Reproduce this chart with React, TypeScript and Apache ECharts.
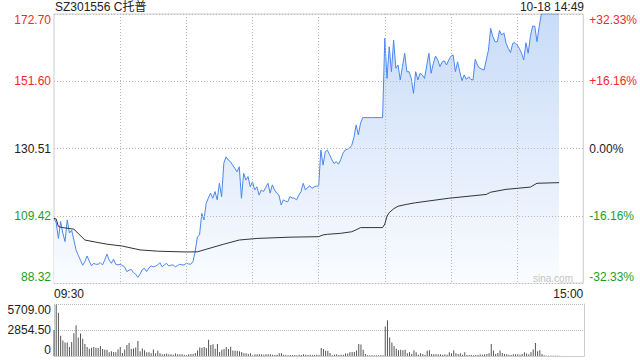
import React, { useEffect, useRef } from 'react';
import * as echarts from 'echarts';

const TITLE = 'SZ301556 C托普';
const TIME_STAMP = '10-18 14:49';
const WATERMARK = 'sina.com';
const PREV_CLOSE = 130.51;
const PRICE_TICKS = [88.32, 109.42, 130.51, 151.6, 172.7];
const PCT_LABELS = ['-32.33%', '-16.16%', '0.00%', '+16.16%', '+32.33%'];
const VOL_MAX = 5709;
const VOL_INTERVAL = 2854.5;

// minute prices, 09:30 .. 14:49 (index 0..229)
const prices = [
  108.6, 107.2, 102.3, 107.6, 104.0, 101.3, 108.1, 104.0, 104.9, 101.8,
  98.7, 97.0, 95.5, 93.9, 95.0, 96.8, 95.2, 93.7, 94.5, 94.2,
  94.2, 94.7, 94.0, 95.5, 97.4, 95.5, 94.5, 95.8, 94.2, 94.0,
  94.2, 93.8, 93.4, 91.9, 92.3, 92.6, 91.6, 91.1, 90.1, 91.1,
  92.5, 92.9, 91.9, 93.0, 93.7, 93.4, 93.6, 94.0, 94.7, 93.4,
  94.0, 94.5, 93.7, 93.9, 94.0, 93.4, 93.8, 94.2, 94.0, 94.0,
  94.5, 94.3, 94.2, 95.0, 98.1, 102.8, 103.4, 110.2, 108.1, 113.3,
  115.0, 116.5, 114.9, 117.0, 114.4, 119.6, 115.4, 125.9, 127.9, 126.9,
  126.4, 125.3, 124.3, 123.2, 124.8, 114.9, 122.7, 120.6, 121.7, 118.5,
  120.1, 117.5, 118.5, 115.9, 117.5, 117.0, 118.3, 119.6, 116.5, 119.1,
  117.5, 116.5, 115.9, 112.8, 114.4, 114.0, 113.8, 115.4, 115.0, 114.9,
  114.4, 115.9, 117.0, 119.6, 117.5, 118.3, 118.8, 118.0, 118.5, 118.7,
  118.7, 130.0, 125.3, 129.5, 130.0, 128.5, 127.0, 125.8, 126.4, 125.6,
  127.0, 129.0, 130.0, 130.3, 130.6, 131.5, 134.0, 137.9, 134.8, 138.5,
  140.2, 140.2, 140.2, 140.2, 140.2, 140.2, 140.2, 140.2, 140.2, 140.2,
  165.1, 152.5, 162.4, 154.6, 164.5, 155.7, 156.7, 152.0, 156.2, 160.4,
  154.6, 154.6, 152.5, 147.8, 154.6, 152.0, 154.1, 153.6, 152.5, 156.5,
  160.4, 154.1, 157.2, 159.5, 158.3, 156.2, 157.7, 158.0, 156.7, 158.3,
  159.5, 159.8, 154.6, 157.7, 154.6, 151.8, 153.6, 152.2, 153.0, 152.2,
  152.0, 158.5, 156.7, 155.7, 155.4, 155.1, 158.3, 161.4, 168.2, 165.6,
  164.0, 164.0, 167.5, 166.1, 166.8, 163.5, 161.9, 160.6, 163.5, 163.7,
  163.0, 161.9, 160.4, 158.3, 163.7, 160.4, 165.6, 168.9, 168.9, 164.0,
  168.8, 172.7, 172.7, 172.7, 172.7, 172.7, 172.7, 172.7, 172.7, 172.7,
];

// average price line, [minute index, value]
const avgPoints = [
  [0, 108.6], [1, 108.4], [2, 106.0], [4, 105.7], [9, 105.2], [14, 101.8],
  [20, 101.0], [24, 100.5], [31, 99.9], [39, 98.7], [47, 98.3], [60, 98.05],
  [65, 98.1], [69, 98.9], [77, 100.5], [84, 101.8], [92, 102.3], [107, 102.7],
  [120, 102.85], [122, 103.4], [124, 103.6], [130, 103.9], [135, 104.4],
  [137, 105.0], [139, 105.7], [149, 105.7], [150, 106.8], [151, 109.3],
  [152, 110.4], [154, 111.6], [156, 112.4], [160, 113.0], [164, 113.5],
  [179, 114.9], [196, 116.1], [198, 116.8], [205, 117.7], [216, 118.4],
  [219, 119.6], [229, 119.8],
];

// minute volumes (index 0..229)
const volumes = [
  2850, 5650, 4760, 2230, 1700, 1475, 1475, 980, 1550, 2500,
  3365, 2040, 2460, 1890, 1320, 980, 795, 910, 980, 910,
  870, 1100, 760, 680, 680, 415, 530, 450, 415, 720,
  980, 340, 720, 1210, 1435, 760, 830, 945, 1660, 530,
  830, 640, 415, 415, 300, 720, 300, 605, 300, 190,
  225, 265, 190, 190, 150, 265, 190, 190, 190, 150,
  75, 190, 225, 225, 340, 605, 945, 910, 980, 870,
  1780, 1210, 1285, 795, 1320, 450, 680, 760, 980, 760,
  1020, 605, 570, 570, 530, 450, 300, 300, 225, 300,
  75, 190, 190, 190, 190, 150, 190, 190, 190, 150,
  110, 150, 300, 300, 150, 110, 75, 110, 75, 110,
  75, 150, 110, 190, 150, 110, 150, 110, 110, 150,
  110, 870, 760, 570, 570, 340, 75, 150, 190, 110,
  150, 150, 265, 265, 415, 450, 450, 605, 1320, 1250,
  680, 225, 75, 75, 75, 75, 75, 75, 75, 75,
  3250, 3930, 2040, 1475, 1100, 795, 640, 680, 640, 680,
  300, 415, 225, 640, 415, 150, 300, 225, 150, 570,
  640, 225, 190, 190, 190, 190, 150, 190, 150, 415,
  300, 640, 300, 225, 300, 150, 415, 110, 110, 110,
  75, 110, 110, 190, 150, 190, 225, 300, 1320, 605,
  225, 340, 605, 340, 225, 190, 150, 110, 190, 190,
  190, 150, 225, 415, 265, 190, 415, 720, 1435, 530,
  640, 225, 75, 40, 40, 40, 40, 40, 40, 40,
];

function pad(n: number) {
  return n < 10 ? '0' + n : '' + n;
}
function buildTimes() {
  const out: string[] = [];
  for (let m = 0; m <= 120; m++) {
    const t = 9 * 60 + 30 + m;
    out.push(pad(Math.floor(t / 60)) + ':' + pad(t % 60));
  }
  for (let m = 1; m <= 120; m++) {
    const t = 13 * 60 + m;
    out.push(pad(Math.floor(t / 60)) + ':' + pad(t % 60));
  }
  return out;
}
const times = buildTimes();

const FONT = '"Liberation Sans", Arial, "Noto Sans CJK SC", sans-serif';
const RED = '#f02a2a';
const GREEN = '#1c9e1c';
const GRID = '#cccccc';
const DOT = '#b8b8b8';
const LINE = '#4a88ee';

function priceColor(v: number) {
  if (Math.abs(v - PREV_CLOSE) < 0.005) return '#222';
  return v > PREV_CLOSE ? RED : GREEN;
}
function tickIndex(v: number) {
  let best = 0;
  for (let i = 0; i < PRICE_TICKS.length; i++) {
    if (Math.abs(PRICE_TICKS[i] - v) < Math.abs(PRICE_TICKS[best] - v)) best = i;
  }
  return best;
}

export default function App() {
  const ref = useRef<HTMLDivElement>(null);
  useEffect(() => {
    if (!ref.current) return;
    const chart = echarts.init(ref.current, null, { renderer: 'svg' });
    const option: any = {
      animation: false,
      textStyle: { fontFamily: FONT },
      grid: [
        { left: 54, top: 14, width: 530, height: 269, show: true, borderColor: GRID, borderWidth: 1, backgroundColor: 'transparent' },
        { left: 54, top: 304, width: 530, height: 52 },
      ],
      xAxis: [
        {
          type: 'category', gridIndex: 0, data: times, boundaryGap: false, z: 3,
          axisLine: { show: false }, axisTick: { show: false },
          axisLabel: {
            interval: (i: number) => i === 0 || i === 240,
            showMinLabel: true, showMaxLabel: true,
            alignMinLabel: 'left', alignMaxLabel: 'right',
            margin: 5, color: '#222', fontSize: 12, fontFamily: FONT,
          },
          splitLine: {
            show: true,
            interval: (i: number) => i > 0 && i < 240 && i % 30 === 0,
            lineStyle: { color: DOT, type: [1, 2], width: 1 },
          },
        },
        {
          type: 'category', gridIndex: 1, data: times, boundaryGap: false,
          axisLine: { show: true, lineStyle: { color: GRID } },
          axisTick: { show: false }, axisLabel: { show: false }, splitLine: { show: false },
        },
      ],
      yAxis: [
        {
          type: 'value', gridIndex: 0, position: 'left', min: PRICE_TICKS[0], max: PRICE_TICKS[4],
          axisLine: { show: false }, axisTick: { show: false, customValues: PRICE_TICKS }, splitLine: { show: false },
          axisLabel: {
            customValues: PRICE_TICKS, margin: 3, fontSize: 12, fontFamily: FONT,
            verticalAlignMinLabel: 'bottom', verticalAlignMaxLabel: 'top',
            formatter: (v: number) => v.toFixed(2),
            color: (v: any) => priceColor(Number(v)),
          },
        },
        {
          type: 'value', gridIndex: 0, position: 'right', min: PRICE_TICKS[0], max: PRICE_TICKS[4],
          axisLine: { show: false }, axisTick: { show: false, customValues: PRICE_TICKS }, splitLine: { show: false },
          axisLabel: {
            customValues: PRICE_TICKS, margin: 6, fontSize: 12, fontFamily: FONT,
            verticalAlignMinLabel: 'bottom', verticalAlignMaxLabel: 'top',
            formatter: (v: number) => PCT_LABELS[tickIndex(v)],
            color: (v: any) => priceColor(Number(v)),
          },
        },
        {
          type: 'value', gridIndex: 1, position: 'left', min: 0, max: VOL_MAX, interval: VOL_INTERVAL,
          axisLine: { show: true, lineStyle: { color: GRID } }, axisTick: { show: false },
          splitLine: { show: true, lineStyle: { color: DOT, type: [1, 1], width: 1 } },
          axisLabel: {
            margin: 3, fontSize: 12, color: '#222', fontFamily: FONT,
            verticalAlignMinLabel: 'bottom', verticalAlignMaxLabel: 'top',
            formatter: (v: number) => (v === 0 ? '0' : v.toFixed(2)),
          },
        },
        {
          type: 'value', gridIndex: 1, position: 'right', min: 0, max: VOL_MAX, interval: VOL_INTERVAL,
          axisLine: { show: true, lineStyle: { color: GRID } }, axisTick: { show: false },
          splitLine: { show: false }, axisLabel: { show: false },
        },
        {
          // hidden helper axis: 4 equal steps matching the price ticks, for the dotted grid rows
          type: 'value', gridIndex: 0, position: 'left', min: 0, max: 4, interval: 1, z: 3,
          axisLine: { show: false }, axisTick: { show: false }, axisLabel: { show: false },
          splitLine: { show: true, lineStyle: { color: DOT, type: [1, 2], width: 1 } },
        },
      ],
      graphic: [
        { type: 'text', left: 55, top: 1, style: { text: TITLE, fill: '#222', font: '12px ' + FONT } },
        { type: 'text', right: 56, top: 1, style: { text: TIME_STAMP, fill: '#222', font: '12px ' + FONT } },
        { type: 'text', right: 67, top: 273, z: 100, style: { text: WATERMARK, fill: '#c4c4c4', font: '10px ' + FONT } },
      ],
      series: [
        {
          type: 'line', xAxisIndex: 0, yAxisIndex: 0, data: prices,
          showSymbol: false, symbol: 'none', silent: true,
          lineStyle: { color: LINE, width: 1 },
          areaStyle: {
            opacity: 1,
            color: new echarts.graphic.LinearGradient(0, 0, 0, 1, [
              { offset: 0, color: '#c8dbf8' },
              { offset: 1, color: '#fafcff' },
            ]),
          },
          z: 2,
        },
        {
          type: 'line', xAxisIndex: 0, yAxisIndex: 0, data: avgPoints,
          showSymbol: false, symbol: 'none', silent: true,
          lineStyle: { color: '#333', width: 1 }, z: 4,
        },
        {
          type: 'bar', xAxisIndex: 1, yAxisIndex: 2, data: volumes,
          barWidth: 1, silent: true, itemStyle: { color: '#555' },
        },
      ],
    };
    chart.setOption(option);
    return () => chart.dispose();
  }, []);
  return (
    <div
      ref={ref}
      style={{ position: 'absolute', left: 0, top: 0, width: 640, height: 360, background: '#fff' }}
    />
  );
}
